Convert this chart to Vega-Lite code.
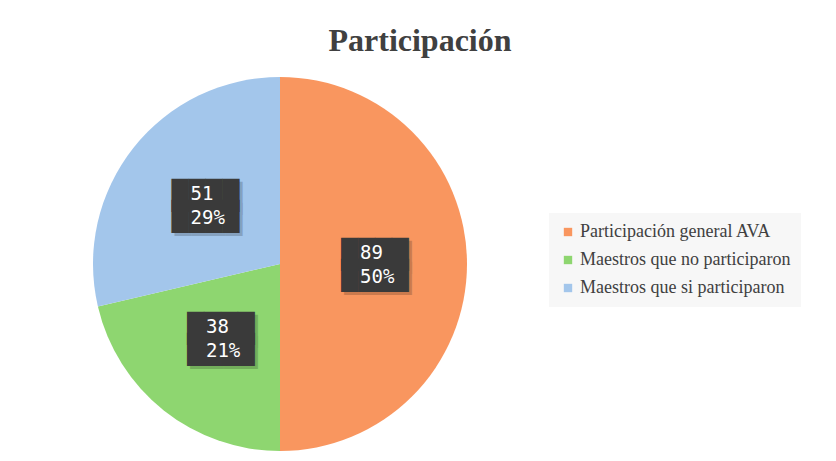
{
  "$schema": "https://vega.github.io/schema/vega-lite/v6.json",
  "autosize": {"type": "none"},
  "width": 540,
  "height": 514,
  "padding": {"left": 10, "top": 7, "right": 286, "bottom": 0},
  "background": "white",
  "config": {
    "font": "Liberation Serif",
    "view": {"stroke": null}
  },
  "title": {
    "text": "Participación",
    "font": "Liberation Serif",
    "fontSize": 32,
    "fontWeight": "bold",
    "color": "#404040",
    "anchor": "middle",
    "baseline": "alphabetic",
    "orient": "top",
    "offset": 0,
    "dx": 140,
    "dy": 76
  },
  "data": {
    "values": [
      {"category": "Participación general AVA", "value": 89},
      {"category": "Maestros que no participaron", "value": 38},
      {"category": "Maestros que si participaron", "value": 51}
    ]
  },
  "transform": [
    {"joinaggregate": [{"op": "sum", "field": "value", "as": "total"}]},
    {"calculate": "[datum.value + '', format(datum.value / datum.total, '.0%')]", "as": "label"},
    {"calculate": "indexof(['Participación general AVA', 'Maestros que no participaron', 'Maestros que si participaron'], datum.category)", "as": "ord"}
  ],
  "encoding": {
    "theta": {"field": "value", "type": "quantitative", "stack": true},
    "order": {"field": "ord", "type": "quantitative", "sort": "ascending"}
  },
  "layer": [
    {
      "mark": {"type": "arc", "outerRadius": 187},
      "encoding": {
        "color": {
          "field": "category",
          "type": "nominal",
          "sort": ["Participación general AVA", "Maestros que no participaron", "Maestros que si participaron"],
          "scale": {
            "domain": ["Participación general AVA", "Maestros que no participaron", "Maestros que si participaron"],
            "range": ["#F9965F", "#8ED670", "#A3C6EB"]
          },
          "legend": {
            "title": null,
            "orient": "none",
            "legendX": 539,
            "legendY": 206,
            "fillColor": "#F7F7F7",
            "padding": 10,
            "symbolType": "square",
            "symbolSize": 70,
            "symbolStrokeWidth": 0,
            "labelFont": "Liberation Serif",
            "labelFontSize": 18,
            "labelColor": "#404040",
            "labelOffset": 3,
            "rowPadding": 10,
            "labelLimit": 400
          }
        }
      }
    },
    {
      "mark": {
        "type": "text",
        "radius": 95,
        "text": ["████", "████"],
        "font": "DejaVu Sans Mono",
        "fontSize": 28,
        "lineHeight": 21,
        "align": "center",
        "baseline": "middle",
        "fill": "#000000",
        "opacity": 0.18,
        "dx": 3,
        "dy": -5
      }
    },
    {
      "mark": {
        "type": "text",
        "radius": 95,
        "text": ["████", "████"],
        "font": "DejaVu Sans Mono",
        "fontSize": 28,
        "lineHeight": 21,
        "align": "center",
        "baseline": "middle",
        "fill": "#3A3A3A",
        "dy": -8
      }
    },
    {
      "mark": {
        "type": "text",
        "radius": 95,
        "font": "DejaVu Sans Mono",
        "fontSize": 19,
        "lineHeight": 24,
        "align": "left",
        "baseline": "middle",
        "dx": -15,
        "dy": -11,
        "fill": "#FFFFFF"
      },
      "encoding": {"text": {"field": "label"}}
    }
  ]
}
